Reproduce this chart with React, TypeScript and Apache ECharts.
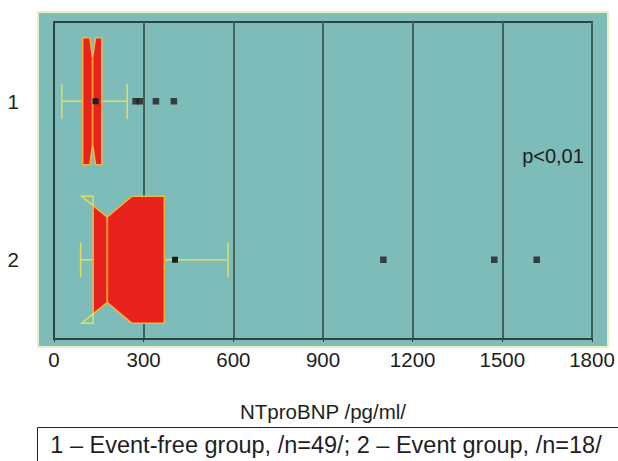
import React, { useEffect, useRef } from 'react';
import * as echarts from 'echarts';

const categories = ['1', '2'];
const whiskerLow = [26, 89];
const q1 = [96, 131];
const notchLow = [120, 93];
const median = [129, 178];
const notchHigh = [139, 260];
const q3 = [160, 369];
const whiskerHigh = [245, 582];
const means = [139, 405];
const outliers1 = [273, 287, 341, 401];
const outliers2 = [1102, 1473, 1615];
const xTicks = [0, 300, 600, 900, 1200, 1500, 1800];
const axisTitle = 'NTproBNP /pg/ml/';
const legendText = '1 – Event-free group, /n=49/; 2 – Event group, /n=18/';
const pText = 'p<0,01';

const FONT = "'Liberation Sans', Arial, sans-serif";
const TEAL = '#7dbcb9';
const GRID = '#44625b';
const FRAME = '#2c463f';
const RED = '#e8221d';
const EDGE = '#f5b33a';
const WHISK = '#e3de5a';

export default function App() {
  const ref = useRef<HTMLDivElement>(null);
  useEffect(() => {
    if (!ref.current) return;
    const chart = echarts.init(ref.current, null, { renderer: 'svg' });
    const boxData = categories.map((_, i) => [
      i, whiskerLow[i], q1[i], notchLow[i], median[i], notchHigh[i], q3[i], whiskerHigh[i], means[i],
    ]);
    const outData: number[][] = [];
    outliers1.forEach((v) => outData.push([v, 0]));
    outliers2.forEach((v) => outData.push([v, 1]));

    const renderItem = (params: any, api: any) => {
      const ci = api.value(0);
      const X = (v: number) => api.coord([v, ci])[0];
      const cy = api.coord([0, ci])[1];
      const band = api.size([0, 1])[1];
      const half = band * 0.4;
      const top = cy - half;
      const bot = cy + half;
      const ind = band * 0.13;
      const wl = X(api.value(1));
      const a = X(api.value(2));
      const nl = X(api.value(3));
      const md = X(api.value(4));
      const nh = X(api.value(5));
      const b = X(api.value(6));
      const wh = X(api.value(7));
      const mn = X(api.value(8));
      const cap = band * 0.11;
      const children: any[] = [];
      const wstyle = { stroke: WHISK, lineWidth: 1.5 };
      children.push({ type: 'line', shape: { x1: wl, y1: cy, x2: a, y2: cy }, style: wstyle });
      children.push({ type: 'line', shape: { x1: b, y1: cy, x2: wh, y2: cy }, style: wstyle });
      children.push({ type: 'line', shape: { x1: wl, y1: cy - cap, x2: wl, y2: cy + cap }, style: wstyle });
      children.push({ type: 'line', shape: { x1: wh, y1: cy - cap, x2: wh, y2: cy + cap }, style: wstyle });
      const pts: number[][] = [];
      const tris: number[][][] = [];
      if (nl >= a) {
        pts.push([a, top], [nl, top], [md, top + ind]);
      } else {
        const d = (ind * (a - nl)) / (md - nl);
        pts.push([a, top + d], [md, top + ind]);
        tris.push([[nl, top], [a, top], [a, top + d]]);
        tris.push([[nl, bot], [a, bot], [a, bot - d]]);
      }
      if (nh <= b) {
        pts.push([nh, top], [b, top], [b, bot], [nh, bot]);
      } else {
        const d = (ind * (nh - b)) / (nh - md);
        pts.push([b, top + d], [b, bot - d]);
        tris.push([[nh, top], [b, top], [b, top + d]]);
        tris.push([[nh, bot], [b, bot], [b, bot - d]]);
      }
      pts.push([md, bot - ind]);
      if (nl >= a) {
        pts.push([nl, bot], [a, bot]);
      } else {
        const d = (ind * (a - nl)) / (md - nl);
        pts.push([a, bot - d]);
      }
      children.push({ type: 'polygon', shape: { points: pts }, style: { fill: RED, stroke: EDGE, lineWidth: 1.5 } });
      tris.forEach((t) =>
        children.push({ type: 'polygon', shape: { points: t }, style: { fill: 'none', stroke: WHISK, lineWidth: 1.5 } })
      );
      children.push({ type: 'line', shape: { x1: md, y1: top + ind, x2: md, y2: bot - ind }, style: { stroke: '#f39a2a', lineWidth: 2 } });
      children.push({ type: 'rect', shape: { x: mn - 3, y: cy - 3, width: 6, height: 6 }, style: { fill: '#1e1e1e' } });
      return { type: 'group', children };
    };

    chart.setOption({
      animation: false,
      backgroundColor: '#ffffff',
      grid: {
        left: 54, right: 26, top: 22, bottom: 122,
        outerBoundsMode: 'none', containLabel: false,
        show: true, borderColor: FRAME, borderWidth: 2, backgroundColor: 'transparent',
      },
      graphic: [
        { type: 'rect', z: -100, shape: { x: 38, y: 12, width: 570, height: 335 }, style: { fill: TEAL, stroke: '#efedc4', lineWidth: 2 } },
        { type: 'text', x: 553, y: 156, style: { text: pText, font: `20px ${FONT}`, fill: '#1e1e1e', align: 'center', verticalAlign: 'middle' } },
        { type: 'rect', shape: { x: 37.5, y: 427.5, width: 600, height: 60 }, style: { fill: 'none', stroke: '#222', lineWidth: 1 } },
        { type: 'text', x: 326, y: 445, style: { text: legendText, font: `23.5px ${FONT}`, fill: '#1e1e1e', align: 'center', verticalAlign: 'middle' } },
      ],
      xAxis: {
        type: 'value',
        min: xTicks[0], max: xTicks[xTicks.length - 1], interval: xTicks[1] - xTicks[0],
        name: axisTitle, nameLocation: 'middle', nameGap: 62,
        nameTextStyle: { fontFamily: FONT, fontSize: 20.5, color: '#1e1e1e' },
        axisLine: { show: true, lineStyle: { color: FRAME, width: 2 } },
        axisTick: { show: true, length: 3, lineStyle: { color: FRAME } },
        axisLabel: { fontFamily: FONT, fontSize: 20.5, color: '#1e1e1e', margin: 10, formatter: (v: number) => String(v) },
        splitLine: { show: true, lineStyle: { color: GRID, width: 2 } },
      },
      yAxis: {
        type: 'category', data: categories, inverse: true,
        axisLine: { show: true, lineStyle: { color: FRAME, width: 2 } },
        axisTick: { show: false },
        axisLabel: { fontFamily: FONT, fontSize: 20.5, color: '#1e1e1e', margin: 35 },
        splitLine: { show: false },
      },
      series: [
        {
          type: 'custom', renderItem, data: boxData,
          encode: { x: [1, 2, 3, 4, 5, 6, 7, 8], y: 0 }, z: 5,
        },
        {
          type: 'scatter', data: outData, symbol: 'rect', symbolSize: 6.5,
          itemStyle: { color: '#1e1e1e' }, z: 6,
        },
      ],
    });
    return () => chart.dispose();
  }, []);
  return <div ref={ref} style={{ position: 'fixed', left: 0, top: 0, width: 618, height: 461 }} />;
}
